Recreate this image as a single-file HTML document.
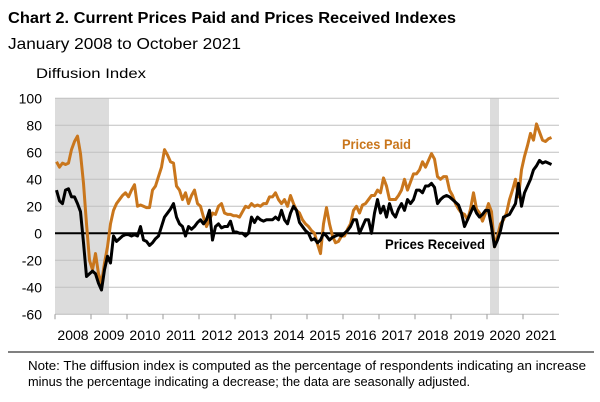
<!DOCTYPE html>
<html><head><meta charset="utf-8"><style>
body{margin:0;background:#fff;font-family:"Liberation Sans",sans-serif}
svg{display:block}
</style></head><body>
<svg width="600" height="402">
<text x="8" y="23" font-size="16" font-weight="bold" textLength="448" lengthAdjust="spacingAndGlyphs">Chart 2. Current Prices Paid and Prices Received Indexes</text>
<text x="8" y="49" font-size="16" textLength="233" lengthAdjust="spacingAndGlyphs">January 2008 to October 2021</text>
<text x="36" y="78" font-size="14" textLength="110" lengthAdjust="spacingAndGlyphs">Diffusion Index</text>
<g id="shade"></g><g id="grid"></g><g id="ticks"></g><g id="series"></g>
<text x="342" y="149" font-size="14" font-weight="bold" fill="#c9761c" textLength="69" lengthAdjust="spacingAndGlyphs">Prices Paid</text>
<text x="385" y="249" font-size="14" font-weight="bold" fill="#000" textLength="100" lengthAdjust="spacingAndGlyphs">Prices Received</text>
<line x1="8" y1="352" x2="594" y2="352" stroke="#000" stroke-width="1"/>
<text x="28" y="370" font-size="13" textLength="558" lengthAdjust="spacingAndGlyphs">Note: The diffusion index is computed as the percentage of respondents indicating an increase</text>
<text x="28" y="386" font-size="13" textLength="442" lengthAdjust="spacingAndGlyphs">minus the percentage indicating a decrease; the data are seasonally adjusted.</text>
</svg>
<script>
const years=[2008,2009,2010,2011,2012,2013,2014,2015,2016,2017,2018,2019,2020,2021];
const yTicks=[100,80,60,40,20,0,-20,-40,-60];
const recessions=[[0,18],[145,148]];
const pricesPaid=[53,49,52,51,52,62,68,72,59,37,7,-20,-27,-15,-30,-37,-22,-10,
7,17,22,25,28,30,27,32,36,20,21,20,19,19,32,35,42,49,62,58,53,52,35,32,25,30,22,28,32,22,20,12,5,10,15,14,20,22,15,14,14,13,13,12,16,20,19,22,20,21,20,22,22,27,27,30,25,22,25,20,28,22,17,15,10,7,5,2,0,-8,-15,7,19,7,-2,-7,-6,-2,-2,3,7,17,20,15,21,22,25,28,28,32,30,41,35,25,25,25,28,32,40,32,38,44,44,47,53,49,54,59,55,42,40,42,42,32,28,22,18,15,14,10,18,30,18,15,9,15,22,16,-10,-2,7,10,15,25,32,40,27,47,57,65,74,69,81,75,69,68,70,71];
const pricesReceived=[32,24,22,32,33,27,27,22,16,-7,-32,-30,-28,-30,-37,-42,-27,-17,-22,-2,-6,-4,-2,-1,-1,-2,-1,-2,5,-5,-6,-9,-7,-4,-2,5,12,15,18,22,12,7,5,-2,5,3,5,8,10,7,10,17,-5,5,7,4,5,5,9,1,1,0,0,-2,0,12,8,12,10,9,10,10,10,12,10,17,10,7,15,20,17,8,5,2,0,-5,-4,-7,-5,0,-2,-5,-3,-2,-1,-2,0,2,5,10,10,0,5,10,10,0,15,25,15,20,12,22,15,12,18,22,17,25,22,25,32,32,30,35,35,37,34,22,25,27,28,27,25,23,21,15,5,10,15,20,15,12,14,17,17,5,-10,-5,2,12,13,14,18,22,37,20,30,35,40,47,50,54,52,53,52,51];
const NS='http://www.w3.org/2000/svg';
const X0=55,MW=3,Y0=233.3,PX=1.35;
const xm=i=>X0+(i+0.5)*MW, xe=i=>X0+i*MW, y=v=>Y0-v*PX;
function mk(p,t,a){const e=document.createElementNS(NS,t);for(const k in a)e.setAttribute(k,a[k]);document.getElementById(p).appendChild(e);return e;}
recessions.forEach(r=>{const e=mk('shade','rect',{x:xe(r[0]),y:y(100),width:xe(r[1])-xe(r[0]),height:y(-60)-y(100),fill:'#dcdcdc'});

});
yTicks.forEach(v=>{if(v!==0&&v!==-60){const g=mk('grid','line',{x1:X0,x2:559,y1:y(v),y2:y(v),stroke:'#c0c0c0','stroke-width':1});

}
const t=mk('ticks','text',{x:42,y:y(v)+5,'font-size':14,'text-anchor':'end'});t.textContent=v;

});
const ax=mk('grid','line',{x1:X0,x2:559,y1:y(-60),y2:y(-60),stroke:'#bbb','stroke-width':1});


years.forEach((yr,k)=>{const tk=mk('ticks','line',{x1:xe(k*12),x2:xe(k*12),y1:y(-60),y2:y(-60)+5,stroke:'#999'});


const t=mk('ticks','text',{x:xe(k*12+6),y:340,'font-size':14,'text-anchor':'middle'});t.textContent=yr;

});
const z=mk('series','line',{x1:X0,x2:559,y1:y(0),y2:y(0),stroke:'#000','stroke-width':2});


function line(d,c,n){const p=mk('series','polyline',{points:d.map((v,i)=>xm(i)+','+y(v)).join(' '),fill:'none',stroke:c,'stroke-width':3,'stroke-linejoin':'round'});

}
line(pricesPaid,'#c9761c','prices-paid-line');
line(pricesReceived,'#000','prices-received-line');
</script>
</body></html>
